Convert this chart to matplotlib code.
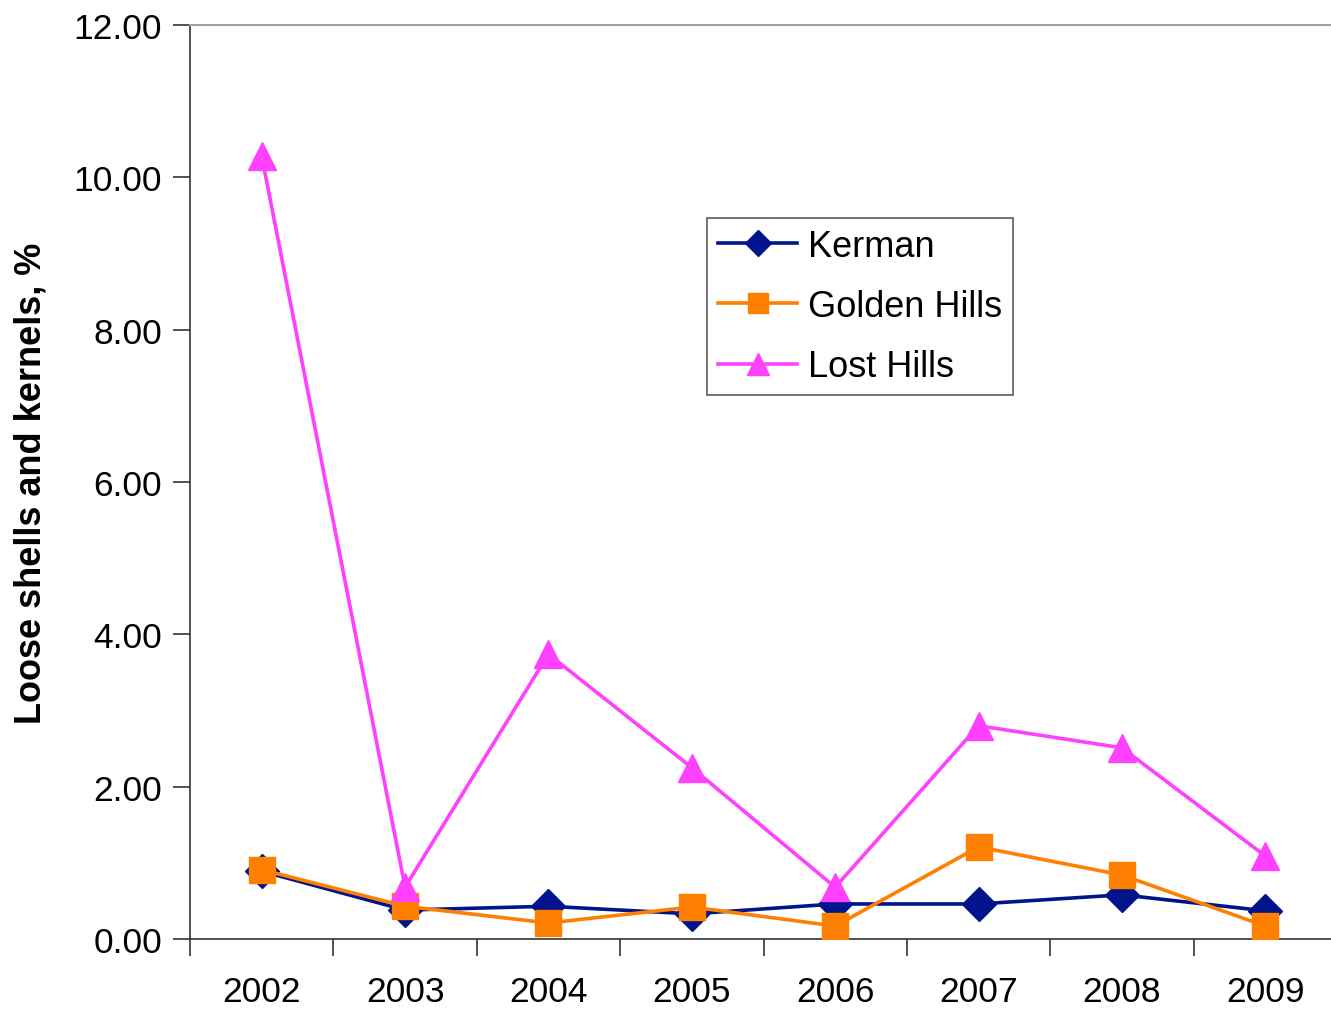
import matplotlib
matplotlib.use("Agg")
import matplotlib.pyplot as plt

plt.rcParams['font.family'] = ['Liberation Sans', 'DejaVu Sans']

# data
years = ['2002', '2003', '2004', '2005', '2006', '2007', '2008', '2009']
kerman = [0.89, 0.38, 0.43, 0.33, 0.46, 0.46, 0.58, 0.37]
golden_hills = [0.91, 0.43, 0.21, 0.42, 0.17, 1.21, 0.84, 0.17]
lost_hills = [10.28, 0.68, 3.74, 2.25, 0.68, 2.80, 2.51, 1.09]
yticks = [0, 2, 4, 6, 8, 10, 12]

fig = plt.figure(figsize=(13.31, 10.12), dpi=100, facecolor='white')
ax = fig.add_axes([190/1331, 1 - 940/1012, 1147/1331, 914/1012])

x = list(range(len(years)))
ax.plot(x, kerman, color='#00148C', lw=2.6, marker='D', ms=17,
        label='Kerman', zorder=3)
ax.plot(x, golden_hills, color='#FF7F00', lw=2.6, marker='s', ms=18.5,
        label='Golden Hills', zorder=4)
ax.plot(x, lost_hills, color='#FF40FF', lw=2.6, marker='^', ms=20,
        label='Lost Hills', zorder=5)

ax.set_xlim(-0.5, len(years) - 0.5)
ax.set_ylim(0, 12)
ax.set_yticks(yticks)
ax.set_yticklabels(['%.2f' % v for v in yticks])
ax.set_xticks(x)
ax.set_xticklabels(years)
ax.set_xticks([i + 0.5 for i in range(-1, len(years))], minor=True)

ax.tick_params(axis='y', direction='out', length=12, width=1.2, pad=8,
               labelsize=25.5, color='#333333')
ax.tick_params(axis='x', which='major', length=0, pad=26, labelsize=25.5)
ax.tick_params(axis='x', which='minor', direction='out', length=12,
               width=1.2, color='#333333')

ax.spines['right'].set_visible(False)
ax.spines['top'].set_color('#A0A0A0')
ax.spines['top'].set_linewidth(1.5)
ax.spines['left'].set_color('#333333')
ax.spines['bottom'].set_color('#333333')
ax.spines['left'].set_linewidth(1.2)
ax.spines['bottom'].set_linewidth(1.2)

ax.set_ylabel('Loose shells and kernels, %', fontsize=26, fontweight='bold',
              labelpad=18)

leg = ax.legend(loc='upper left', bbox_to_anchor=(707/1331, 1 - 219/1012),
                bbox_transform=fig.transFigure, fontsize=26, frameon=True,
                fancybox=False, edgecolor='#333333', handlelength=2.2,
                borderpad=0.3, labelspacing=0.7, handletextpad=0.3,
                borderaxespad=0, markerscale=0.78)
leg.get_frame().set_linewidth(1.2)

fig.savefig('out.png', dpi=100, facecolor='white')
